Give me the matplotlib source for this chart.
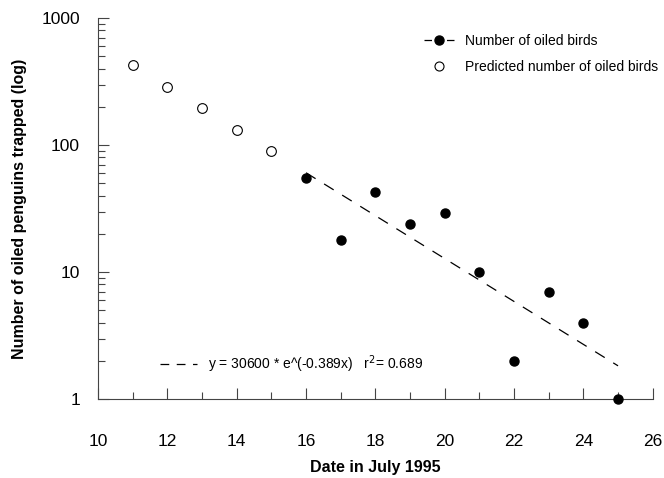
import matplotlib
matplotlib.use("Agg")
import matplotlib.pyplot as plt
import numpy as np
from matplotlib.lines import Line2D
from matplotlib.ticker import FixedLocator, LogLocator, NullFormatter

plt.rcParams['font.family'] = ['Liberation Sans', 'DejaVu Sans']

obs_days = [16, 17, 18, 19, 20, 21, 22, 23, 24, 25]
obs_counts = [55, 18, 43, 24, 29, 10, 2, 7, 4, 1]
pred_days = [11, 12, 13, 14, 15]
pred_counts = [427, 286, 195, 131, 90]
fit_a = 30600
fit_k = -0.389
fit_r2 = 0.689
fit_range = [16, 25]
x_ticks = [10, 12, 14, 16, 18, 20, 22, 24, 26]
y_ticks = [1, 10, 100, 1000]
y_tick_labels = ['1', '10', '100', '1000']

fig = plt.figure(figsize=(6.64, 4.78), dpi=100)
ax = fig.add_axes([0.1476, 0.165, 0.8354, 0.797])

fx = np.linspace(fit_range[0], fit_range[1], 50)
fy = fit_a * np.exp(fit_k * fx)
ax.plot(fx, fy, color='black', lw=0.9, dashes=(9, 8))
ax.plot(obs_days, obs_counts, 'o', color='black', ms=6.5, clip_on=False, zorder=5)
ax.plot(pred_days, pred_counts, 'o', mfc='white', mec='black', mew=0.8, ms=7, clip_on=False, zorder=5)

ax.set_yscale('log')
ax.set_xlim(10, 26)
ax.set_ylim(1, 1000)
ax.set_xticks(x_ticks)
ax.xaxis.set_minor_locator(FixedLocator(np.arange(11, 26, 2)))
ax.set_yticks(y_ticks)
ax.set_yticklabels(y_tick_labels)
ax.yaxis.set_minor_locator(LogLocator(base=10, subs=np.arange(2, 10)))
ax.yaxis.set_minor_formatter(NullFormatter())

for s in ['top', 'right']:
    ax.spines[s].set_visible(False)
for s in ['left', 'bottom']:
    ax.spines[s].set_linewidth(0.8)
    ax.spines[s].set_color('#444444')

ax.tick_params(axis='both', which='both', direction='in', color='#444444', width=0.8)
ax.tick_params(axis='x', which='major', length=8, pad=25, labelsize=12.5)
ax.tick_params(axis='x', which='minor', length=5)
ax.tick_params(axis='y', which='major', length=8, pad=13, labelsize=12.5)
ax.tick_params(axis='y', which='minor', length=5)

ax.set_xlabel('Date in July 1995', fontsize=11.5, fontweight='bold', labelpad=8)
ax.set_ylabel('Number of oiled penguins trapped (log)', fontsize=11.5, fontweight='bold', labelpad=10)

h1 = Line2D([], [], color='black', marker='o', ms=6.5, lw=0.9, dashes=(6, 3))
h2 = Line2D([], [], color='black', marker='o', mfc='white', mew=0.8, ms=6.5, lw=0)
leg1 = ax.legend([h1, h2], ['Number of oiled birds', 'Predicted number of oiled birds'],
                 loc='upper right', bbox_to_anchor=(1.033, 0.992), frameon=False,
                 fontsize=10, handlelength=2.2, labelspacing=0.9)
ax.add_artist(leg1)

h3 = Line2D([], [], color='black', lw=0.9, dashes=(7, 6))
ax.legend([h3], [f'y = {fit_a} * e^({fit_k}x)   r$^2$= {fit_r2}'],
          loc='lower left', bbox_to_anchor=(0.09, 0.03), frameon=False,
          fontsize=10, handlelength=2.6)

fig.savefig('out.png', dpi=100)
